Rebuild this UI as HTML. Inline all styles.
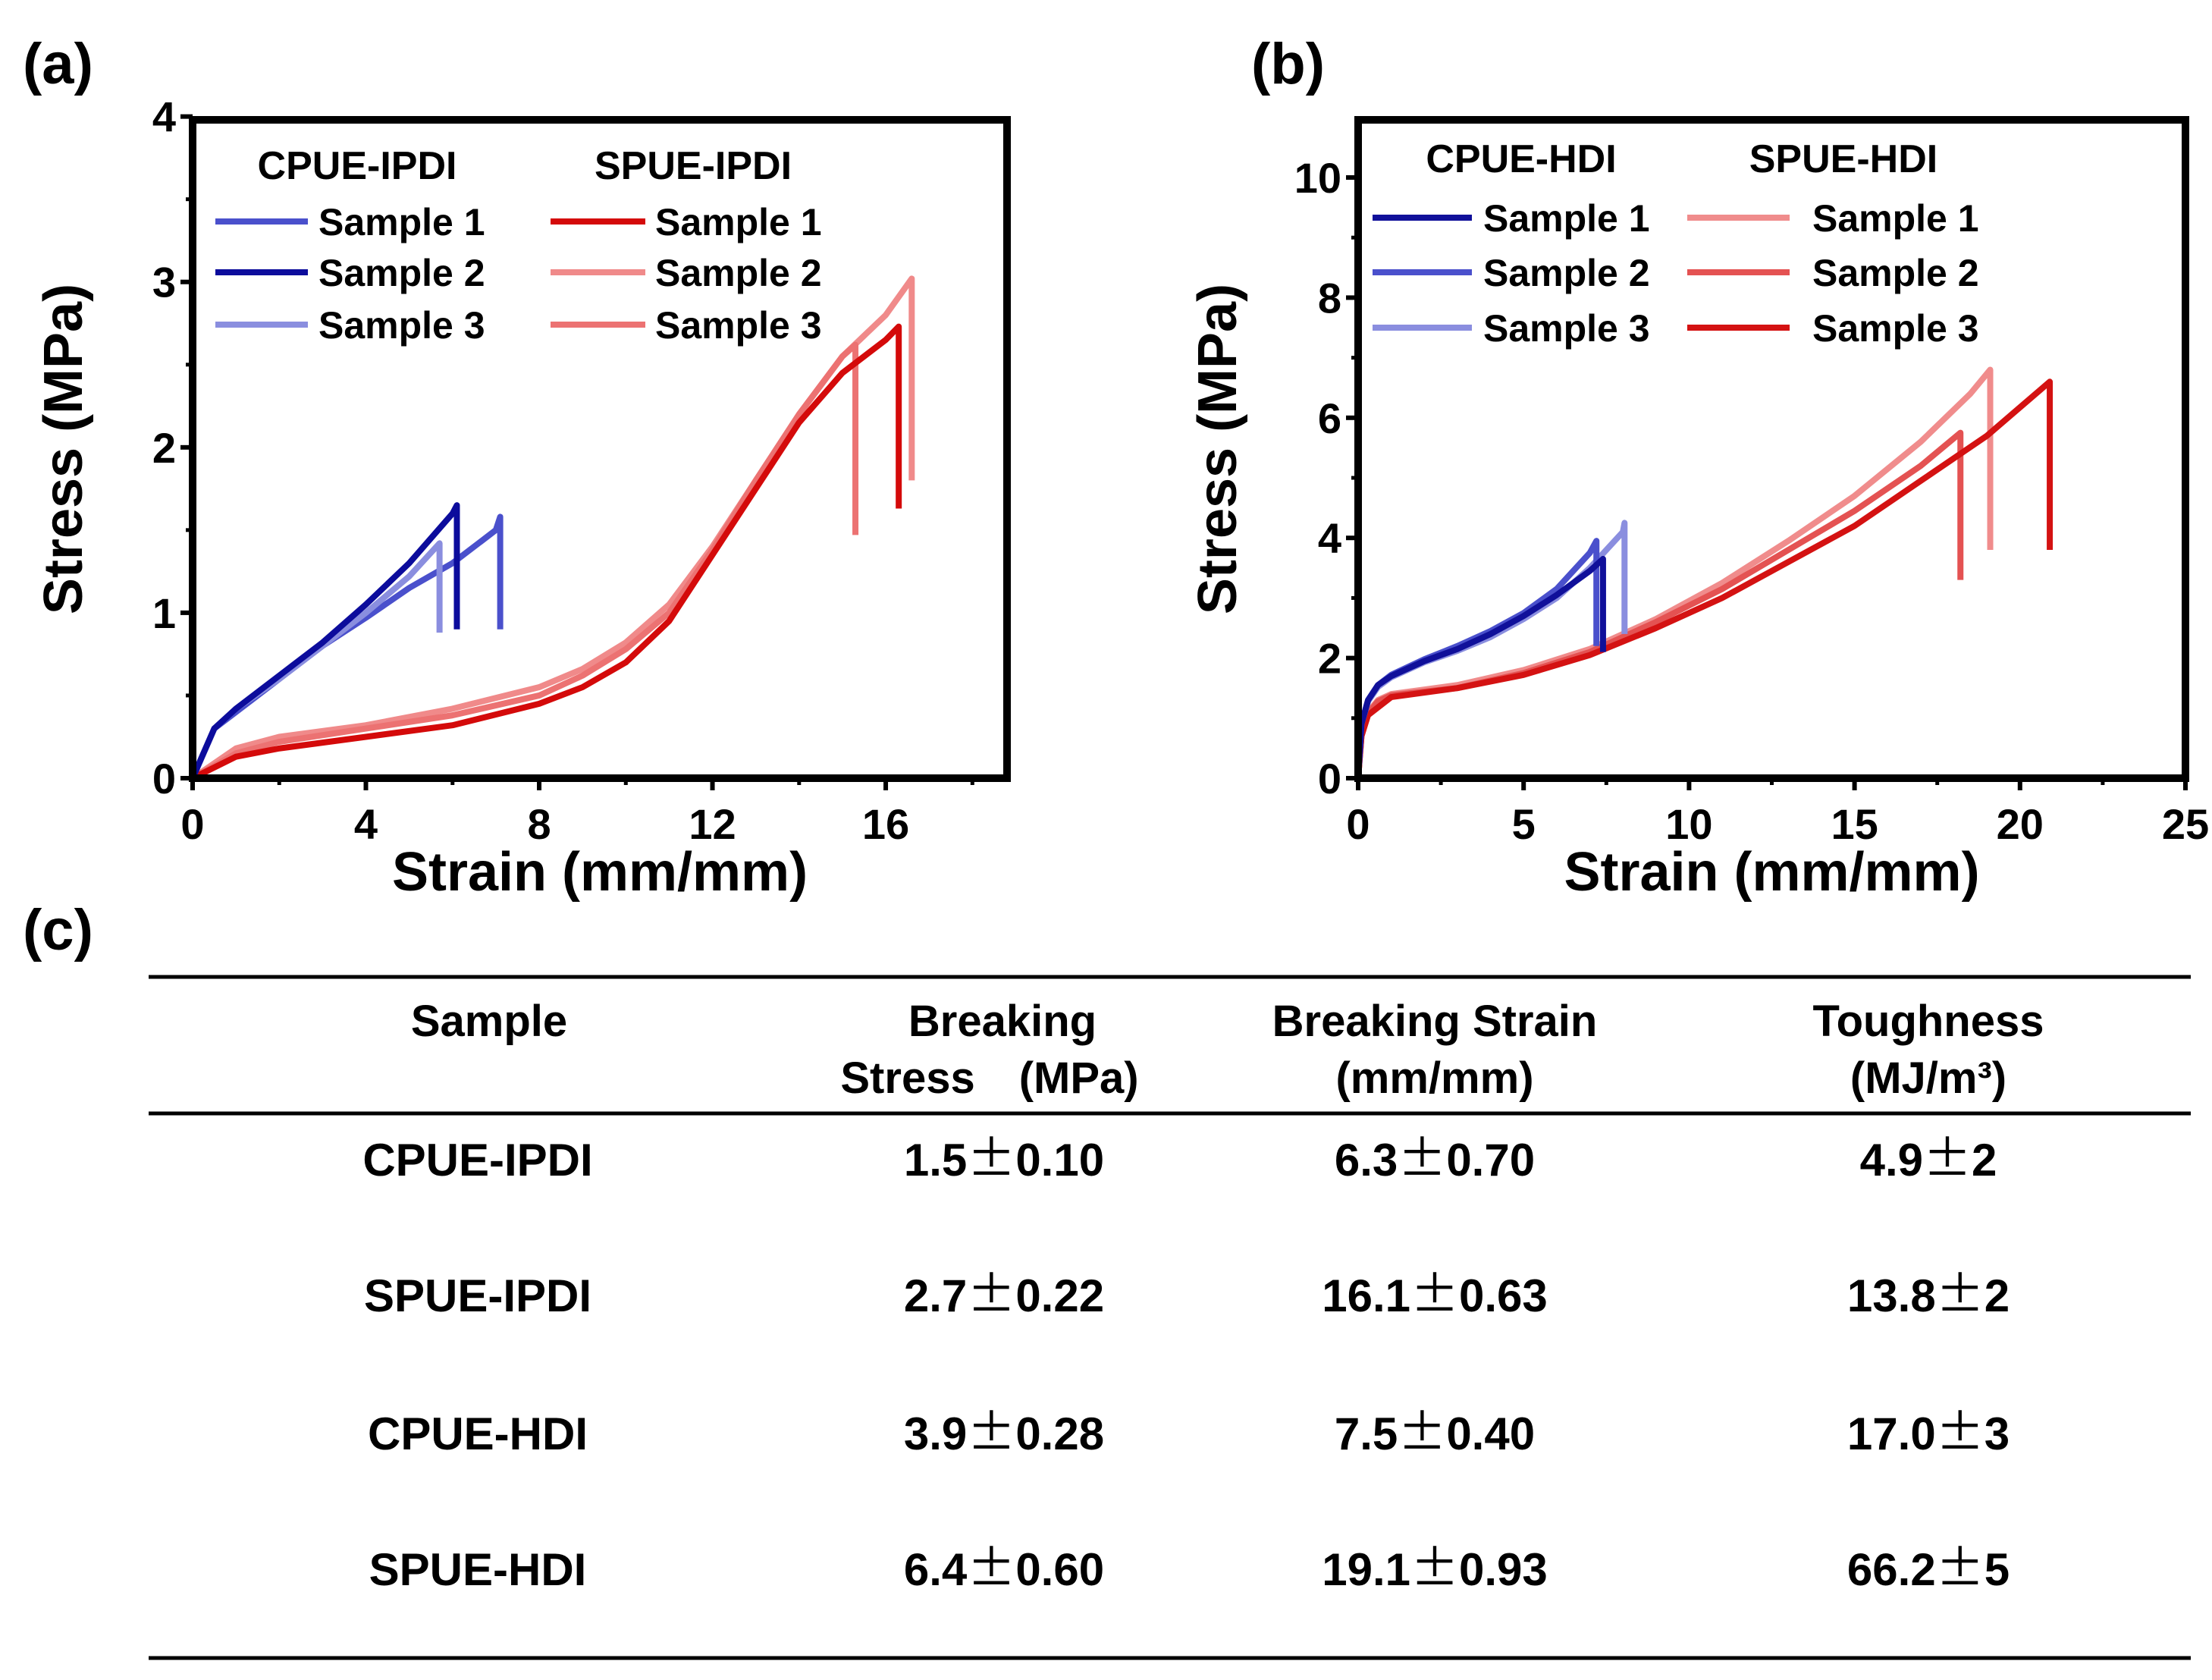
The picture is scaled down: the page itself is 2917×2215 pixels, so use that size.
<!DOCTYPE html>
<html><head><meta charset="utf-8"><style>
html,body{margin:0;padding:0;background:#fff;}
svg{display:block;font-family:"Liberation Sans",Arial,sans-serif;font-weight:bold;}
.pm{font-family:"Noto Sans CJK SC","Liberation Sans",sans-serif;font-weight:normal;}
</style></head><body>
<svg id="fig" width="2917" height="2215" viewBox="0 0 2917 2215" xmlns="http://www.w3.org/2000/svg">
<rect width="2917" height="2215" fill="#fff"/>
<text x="30" y="110" font-size="76">(a)</text>
<text x="1650" y="110" font-size="76">(b)</text>
<text x="30" y="1252" font-size="76">(c)</text>
<g id="pa"></g>
<g id="pb"></g>
<g id="tbl">
<line x1="196" x2="2889" y1="1288" y2="1288" stroke="#000" stroke-width="5"/>
<line x1="196" x2="2889" y1="1468" y2="1468" stroke="#000" stroke-width="5"/>
<line x1="196" x2="2889" y1="2186" y2="2186" stroke="#000" stroke-width="5"/>
<g font-size="58" text-anchor="middle">
<text x="645" y="1366">Sample</text>
<text x="1322" y="1366">Breaking</text>
<text x="1305" y="1441">Stress　(MPa)</text>
<text x="1892" y="1366">Breaking Strain</text>
<text x="1892" y="1441">(mm/mm)</text>
<text x="2543" y="1366">Toughness</text>
<text x="2543" y="1441">(MJ/m³)</text>
</g>
<g id="rows" font-size="60" text-anchor="middle"></g>
</g>
</svg>
<script>
// ---------- Chart (a) data ----------
const aCPUE1_x=[0,0.5,1,2,3,4,5,6,7,7.1,7.1];
const aCPUE1_y=[0,0.3,0.4,0.6,0.8,0.97,1.15,1.3,1.5,1.58,0.9];
const aCPUE2_x=[0,0.5,1,2,3,4,5,6,6.1,6.1];
const aCPUE2_y=[0,0.3,0.42,0.62,0.82,1.05,1.3,1.6,1.65,0.9];
const aCPUE3_x=[0,0.5,1,2,3,4,5,5.7,5.7];
const aCPUE3_y=[0,0.3,0.42,0.6,0.8,1.0,1.22,1.42,0.88];
const aSPUE1_x=[0,1,2,4,6,8,9,10,11,12,13,14,15,16,16.3,16.3];
const aSPUE1_y=[0,0.13,0.18,0.25,0.32,0.45,0.55,0.7,0.95,1.35,1.75,2.15,2.45,2.65,2.73,1.63];
const aSPUE2_x=[0,1,2,4,6,8,9,10,11,12,13,14,15,16,16.6,16.6];
const aSPUE2_y=[0,0.18,0.25,0.32,0.42,0.55,0.66,0.82,1.05,1.4,1.8,2.2,2.55,2.8,3.02,1.8];
const aSPUE3_x=[0,1,2,4,6,8,9,10,11,12,13,14,15,15.3,15.3];
const aSPUE3_y=[0,0.15,0.22,0.3,0.38,0.5,0.62,0.78,1.0,1.38,1.8,2.2,2.55,2.62,1.47];
const aXTicks=[0,4,8,12,16];
const aYTicks=[0,1,2,3,4];
// ---------- Chart (b) data ----------
const bCPUE1_x=[0,0.1,0.3,0.6,1,2,3,4,5,6,7,7.4,7.4];
const bCPUE1_y=[0,0.9,1.3,1.55,1.7,1.95,2.15,2.4,2.7,3.05,3.45,3.65,2.1];
const bCPUE2_x=[0,0.1,0.3,0.6,1,2,3,4,5,6,7,7.2,7.2];
const bCPUE2_y=[0,0.9,1.3,1.55,1.72,1.98,2.2,2.45,2.75,3.15,3.75,3.95,2.2];
const bCPUE3_x=[0,0.1,0.3,0.6,1,2,3,4,5,6,7,8,8.05,8.05];
const bCPUE3_y=[0,0.9,1.28,1.52,1.68,1.93,2.12,2.35,2.65,3.0,3.5,4.1,4.25,2.4];
const bSPUE1_x=[0,0.1,0.3,0.6,1,3,5,7,9,11,13,15,17,18.5,19.1,19.1];
const bSPUE1_y=[0,0.7,1.1,1.3,1.4,1.55,1.8,2.15,2.65,3.25,3.95,4.7,5.6,6.4,6.8,3.8];
const bSPUE2_x=[0,0.1,0.3,0.6,1,3,5,7,9,11,13,15,17,18.2,18.2];
const bSPUE2_y=[0,0.7,1.08,1.28,1.38,1.5,1.75,2.1,2.6,3.15,3.8,4.45,5.2,5.75,3.3];
const bSPUE3_x=[0,0.1,0.3,1,3,5,7,9,11,13,15,17,19,20.9,20.9];
const bSPUE3_y=[0,0.7,1.05,1.35,1.5,1.72,2.05,2.5,3.0,3.6,4.2,4.95,5.7,6.6,3.8];
const bXTicks=[0,5,10,15,20,25];
const bYTicks=[0,2,4,6,8,10];
// ---------- Table data ----------
const tSamples=["CPUE-IPDI","SPUE-IPDI","CPUE-HDI","SPUE-HDI"];
const tStress=["1.5±0.10","2.7±0.22","3.9±0.28","6.4±0.60"];
const tStrain=["6.3±0.70","16.1±0.63","7.5±0.40","19.1±0.93"];
const tTough=["4.9±2","13.8±2","17.0±3","66.2±5"];

const NS="http://www.w3.org/2000/svg";
function mk(tag,attrs,parent){const e=document.createElementNS(NS,tag);for(const k in attrs)e.setAttribute(k,attrs[k]);parent.appendChild(e);return e;}

function chart(g,cfg){
  const sx=v=>cfg.L+(v-cfg.x0)/(cfg.x1-cfg.x0)*(cfg.R-cfg.L);
  const sy=v=>cfg.B-(v-cfg.y0)/(cfg.y1-cfg.y0)*(cfg.B-cfg.T);
  cfg.series.forEach(s=>{
    const p=mk('polyline',{points:s.x.map((v,i)=>sx(v)+','+sy(s.y[i])).join(' '),fill:'none',stroke:s.c,'stroke-width':8,'stroke-linejoin':'round'},g);
    
    
  });
  const fr=mk('rect',{x:cfg.L,y:cfg.T,width:cfg.R-cfg.L,height:cfg.B-cfg.T,fill:'none',stroke:'#000','stroke-width':10},g);
  
  
  cfg.xt.forEach((v,i)=>{
    const t=mk('line',{x1:sx(v),x2:sx(v),y1:cfg.B,y2:cfg.B+16,stroke:'#000','stroke-width':6},g);
    
    
    if(i<cfg.xt.length-1){const m=(v+cfg.xt[i+1])/2;const mt=mk('line',{x1:sx(m),x2:sx(m),y1:cfg.B,y2:cfg.B+9,stroke:'#000','stroke-width':5},g);
      
      }
    const l=mk('text',{x:sx(v),y:cfg.B+80,'font-size':56,'text-anchor':'middle'},g);l.textContent=v;
    
    
  });
  {const m=cfg.xt[cfg.xt.length-1]+(cfg.xt[1]-cfg.xt[0])/2;if(m<cfg.x1){const mt=mk('line',{x1:sx(m),x2:sx(m),y1:cfg.B,y2:cfg.B+9,stroke:'#000','stroke-width':5},g);
    
    }}
  cfg.yt.forEach((v,i)=>{
    const t=mk('line',{x1:cfg.L-16,x2:cfg.L,y1:sy(v),y2:sy(v),stroke:'#000','stroke-width':6},g);
    
    
    const m=v+(cfg.yt[1]-cfg.yt[0])/2;
    if(m<cfg.y1){const mt=mk('line',{x1:cfg.L-9,x2:cfg.L,y1:sy(m),y2:sy(m),stroke:'#000','stroke-width':5},g);
      
      }
    const l=mk('text',{x:cfg.L-22,y:sy(v)+20,'font-size':56,'text-anchor':'end'},g);l.textContent=v;
    
    
  });
  const xt=mk('text',{x:(cfg.L+cfg.R)/2,y:cfg.B+148,'font-size':72,'text-anchor':'middle'},g);xt.textContent='Strain (mm/mm)';
  
  
  const yt=mk('text',{x:0,y:0,'font-size':72,'text-anchor':'middle',transform:`translate(${cfg.ytx},${(cfg.T+cfg.B)/2}) rotate(-90)`},g);yt.textContent='Stress (MPa)';
  
  
  cfg.leg.forEach(col=>{
    const h=mk('text',{x:col.hx,y:col.hy,'font-size':52,'text-anchor':'middle'},g);h.textContent=col.title;
    
    
    col.items.forEach((it,i)=>{
      const y=col.ys[i];
      const ln=mk('line',{x1:col.lx1,x2:col.lx2,y1:y,y2:y,stroke:it.c,'stroke-width':8},g);
      
      
      const t=mk('text',{x:col.tx,y:y+18,'font-size':50},g);t.textContent=it.t;
      
      
    });
  });
}
const B1='#4a50cc',B2='#0c0c9c',B3='#8a8edf',R1='#d40a0a',R2='#f08a8a',R3='#ec7272';
chart(document.getElementById('pa'),{L:254,R:1328,T:158,B:1026,x0:0,x1:18.8,y0:0,y1:3.98,xt:aXTicks,yt:aYTicks,ytx:108,
 series:[{x:aSPUE2_x,y:aSPUE2_y,c:R2,name:'spue-ipdi-sample-2'},{x:aSPUE3_x,y:aSPUE3_y,c:R3,name:'spue-ipdi-sample-3'},{x:aSPUE1_x,y:aSPUE1_y,c:R1,name:'spue-ipdi-sample-1'},
  {x:aCPUE1_x,y:aCPUE1_y,c:B1,name:'cpue-ipdi-sample-1'},{x:aCPUE3_x,y:aCPUE3_y,c:B3,name:'cpue-ipdi-sample-3'},{x:aCPUE2_x,y:aCPUE2_y,c:B2,name:'cpue-ipdi-sample-2'}],
 leg:[{title:'CPUE-IPDI',hx:471,hy:236,lx1:284,lx2:406,tx:420,ys:[292,359,428],items:[{c:B1,t:'Sample 1'},{c:B2,t:'Sample 2'},{c:B3,t:'Sample 3'}]},
      {title:'SPUE-IPDI',hx:914,hy:236,lx1:726,lx2:851,tx:864,ys:[292,359,428],items:[{c:R1,t:'Sample 1'},{c:R2,t:'Sample 2'},{c:R3,t:'Sample 3'}]}]});
const bB1='#10109a',bB2='#4a50cc',bB3='#8a8edf',bR1='#f08c8c',bR2='#e45252',bR3='#d41212';
chart(document.getElementById('pb'),{L:1791,R:2882,T:158,B:1026,x0:0,x1:25,y0:0,y1:10.96,xt:bXTicks,yt:bYTicks,ytx:1630,
 series:[{x:bSPUE1_x,y:bSPUE1_y,c:bR1,name:'spue-hdi-sample-1'},{x:bSPUE2_x,y:bSPUE2_y,c:bR2,name:'spue-hdi-sample-2'},{x:bSPUE3_x,y:bSPUE3_y,c:bR3,name:'spue-hdi-sample-3'},
  {x:bCPUE3_x,y:bCPUE3_y,c:bB3,name:'cpue-hdi-sample-3'},{x:bCPUE2_x,y:bCPUE2_y,c:bB2,name:'cpue-hdi-sample-2'},{x:bCPUE1_x,y:bCPUE1_y,c:bB1,name:'cpue-hdi-sample-1'}],
 leg:[{title:'CPUE-HDI',hx:2006,hy:227,lx1:1810,lx2:1941,tx:1956,ys:[287,359,432],items:[{c:bB1,t:'Sample 1'},{c:bB2,t:'Sample 2'},{c:bB3,t:'Sample 3'}]},
      {title:'SPUE-HDI',hx:2431,hy:227,lx1:2225,lx2:2360,tx:2390,ys:[287,359,432],items:[{c:bR1,t:'Sample 1'},{c:bR2,t:'Sample 2'},{c:bR3,t:'Sample 3'}]}]});
const rows=document.getElementById('rows');
const rowY=[1550,1729,1911,2090];
tSamples.forEach((s,i)=>{
  [[630,s,'row-sample'],[1324,tStress[i],'row-stress'],[1892,tStrain[i],'row-strain'],[2543,tTough[i],'row-toughness']].forEach(c=>{
    const t=mk('text',{x:c[0],y:rowY[i]},rows);
    
    
    const parts=c[1].split('±');
    if(parts.length===2){
      const a=mk('tspan',{},t);a.textContent=parts[0];
      const b=mk('tspan',{'class':'pm','font-size':64},t);b.textContent='±';
      const d=mk('tspan',{},t);d.textContent=parts[1];
    } else t.textContent=c[1];
  });
});
</script>
</body></html>
